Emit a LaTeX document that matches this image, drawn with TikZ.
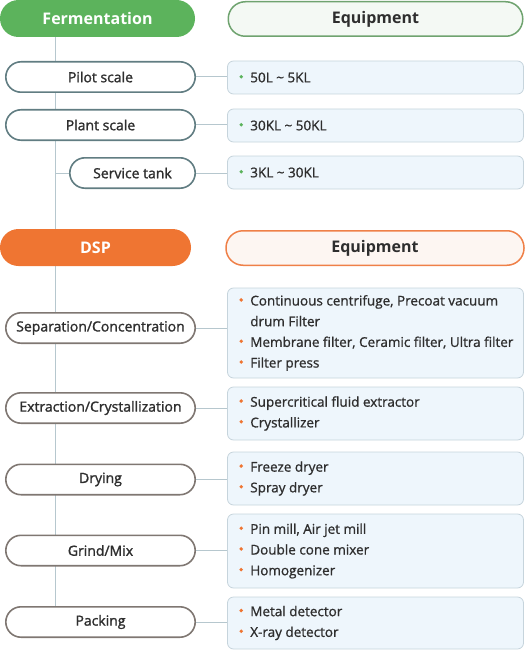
\documentclass[tikz,border=0pt]{standalone}
\usepackage{fontspec}
\setmainfont{Open Sans}
\newfontfamily\semifont[FakeBold=1.4]{Open Sans}
\newfontfamily\listfont[FakeBold=1]{Open Sans}
\usetikzlibrary{backgrounds}

\definecolor{fermgreen}{HTML}{5CB35C}
\definecolor{fermline}{HTML}{6FA36F}
\definecolor{fermpale}{HTML}{F4F9F4}
\definecolor{dsporange}{HTML}{EF7532}
\definecolor{dspline}{HTML}{EF8048}
\definecolor{dsppale}{HTML}{FDF6F2}
\definecolor{slate}{HTML}{617D82}
\definecolor{warmgray}{HTML}{7F7772}
\definecolor{boxblue}{HTML}{EEF6FC}
\definecolor{boxline}{HTML}{C6D4DC}
\definecolor{linkgray}{HTML}{B6C7CE}
\definecolor{textgray}{HTML}{2E2E2E}

\newcommand\listdot[1]{\makebox[11pt][l]{\tikz[baseline=0pt, x=1pt, y=1pt]
    \fill[#1] (2.6,5.6) circle (1.9pt);}}
\newcommand\fermdot{\listdot{fermgreen}}
\newcommand\dspdot{\listdot{dsporange}}

\tikzset{
  head/.style={fill=#1, text=white, rounded corners=18.5pt, minimum height=37pt,
    inner sep=0pt, font=\fontsize{16}{18}\selectfont\bfseries},
  eqhead/.style={draw=#1, line width=1.5pt, rounded corners=17pt, minimum height=34.5pt,
    inner sep=0pt, text=textgray, font=\fontsize{16}{18}\selectfont\bfseries},
  stage/.style={draw=#1, fill=white, line width=1.6pt, rounded corners=15.2pt,
    minimum height=30.4pt, inner sep=0pt, text=textgray, font=\fontsize{14}{16}\semifont},
  eqbox/.style={draw=boxline, fill=boxblue, line width=0.8pt, rounded corners=6pt,
    minimum width=296pt, inner sep=0pt},
  items/.style={anchor=west, align=left, inner sep=0pt, text=textgray,
    font=\fontsize{13.5}{20.7}\listfont},
  link/.style={draw=linkgray, line width=1pt}
}

\begin{document}
\begin{tikzpicture}[x=1pt, y=-1pt]
    \useasboundingbox (0,0) rectangle (526,650);
    \coordinate (spine) at (55,0);
  % Fermentation
    \node[head=fermgreen, minimum width=195pt] (ferm) at (97.5,18.5) {Fermentation};
    \node[eqhead=fermline, fill=fermpale, minimum width=294.5pt] (fermeq) at (375.5,19) {Equipment};
    \node[stage=slate, minimum width=189.4pt] (pilot) at (100.5,77) {Pilot scale};
    \node[stage=slate, minimum width=189.4pt] (plant) at (100.5,125) {Plant scale};
    \node[stage=slate, minimum width=125.4pt] (serv) at (132.5,173) {Service tank};
    \node[eqbox, minimum height=33pt] (pilotbox) at (375.5,77.5) {};
    \node[eqbox, minimum height=33pt] (plantbox) at (375.5,125.5) {};
    \node[eqbox, minimum height=33pt] (servbox) at (375.5,172.5) {};
    \node[items] at ([xshift=12pt]pilotbox.west) {\fermdot 50L \textasciitilde{} 5KL};
    \node[items] at ([xshift=12pt]plantbox.west) {\fermdot 30KL \textasciitilde{} 50KL};
    \node[items] at ([xshift=12pt]servbox.west) {\fermdot 3KL \textasciitilde{} 30KL};
  % DSP
    \node[head=dsporange, minimum width=191pt] (dsp) at (95.5,247.5) {DSP};
    \node[eqhead=dspline, fill=dsppale, minimum width=298pt] (dspeq) at (375,248) {Equipment};
    \node[stage=warmgray, minimum width=189.4pt] (sep) at (100.5,328) {Separation/Concentration};
    \node[stage=warmgray, minimum width=189.4pt] (ext) at (100.5,408) {Extraction/Crystallization};
    \node[stage=warmgray, minimum width=189.4pt] (dry) at (100.5,479.5) {Drying};
    \node[stage=warmgray, minimum width=189.4pt] (grind) at (100.5,550.5) {Grind/Mix};
    \node[stage=warmgray, minimum width=189.4pt] (pack) at (100.5,622) {Packing};
    \node[eqbox, minimum height=90pt] (sepbox) at (375.5,333) {};
    \node[eqbox, minimum height=53pt] (extbox) at (375.5,413.5) {};
    \node[eqbox, minimum height=53pt] (drybox) at (375.5,478.5) {};
    \node[eqbox, minimum height=74pt] (grindbox) at (375.5,551) {};
    \node[eqbox, minimum height=52pt] (packbox) at (375.5,623) {};
    \node[items] at ([xshift=12pt]sepbox.west) {\dspdot Continuous centrifuge, Precoat vacuum\\
      \hspace*{11pt}drum Filter\\ \dspdot Membrane filter, Ceramic filter, Ultra filter\\ \dspdot Filter press};
    \node[items] at ([xshift=12pt]extbox.west) {\dspdot Supercritical fluid extractor\\ \dspdot Crystallizer};
    \node[items] at ([xshift=12pt]drybox.west) {\dspdot Freeze dryer\\ \dspdot Spray dryer};
    \node[items] at ([xshift=12pt]grindbox.west) {\dspdot Pin mill, Air jet mill\\ \dspdot Double cone mixer\\ \dspdot Homogenizer};
    \node[items] at ([xshift=12pt]packbox.west) {\dspdot Metal detector\\ \dspdot X-ray detector};
  % Draw links
    \begin{scope}[on background layer]
        \draw[link] (ferm.south -| spine) -- (pack.north -| spine);
        \draw[link] (spine |- serv.west) -- (serv.west);
        \foreach \s/\b in {pilot/pilotbox, plant/plantbox, serv/servbox, sep/sepbox,
            ext/extbox, dry/drybox, grind/grindbox, pack/packbox}
            \draw[link] (\s.east) -- (\s.east -| \b.west);
    \end{scope}
\end{tikzpicture}
\end{document}
